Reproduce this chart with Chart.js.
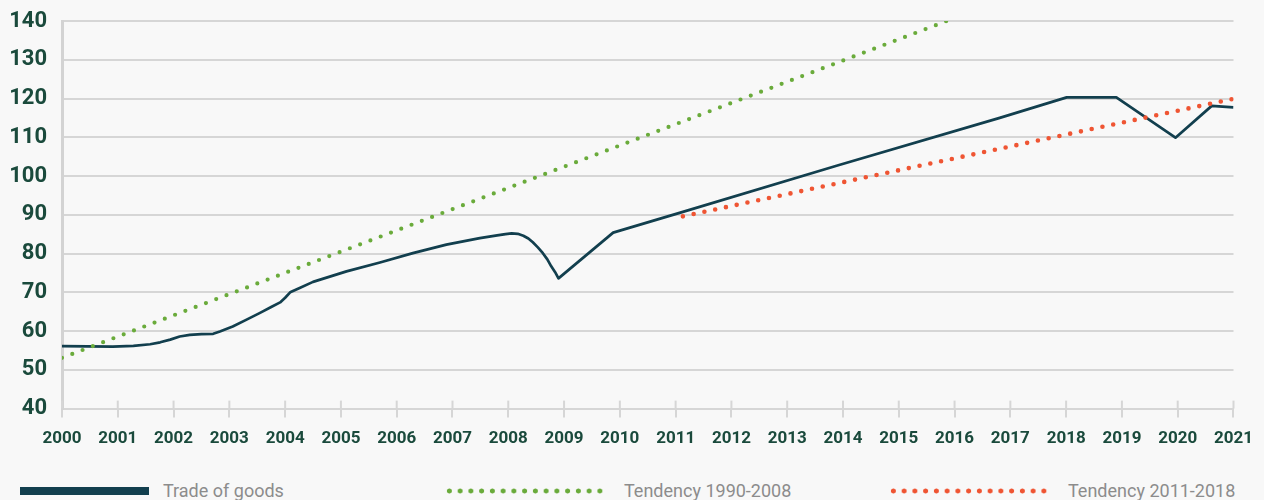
<!DOCTYPE html>
<html>
<head>
<meta charset="utf-8">
<script src="https://cdn.jsdelivr.net/npm/chart.js@4.4.1/dist/chart.umd.min.js"></script>
<style>
html,body{margin:0;padding:0;background:#f8f8f8;}
body{width:1264px;height:500px;overflow:hidden;position:relative;font-family:Roboto,"Noto Sans",sans-serif;}
#wrap{position:absolute;left:0;top:0;width:1264px;height:460px;}
.leg{position:absolute;top:479px;height:24px;display:flex;align-items:center;color:#8c8c8c;font-size:18px;line-height:24px;white-space:nowrap;}
.sw{display:inline-block;height:8px;}
.solid{background:#123f4e;width:129px;margin-right:14px;}
.dotG{width:162px;margin-right:18px;background-image:radial-gradient(circle at center,#6aab3b 2.2px,rgba(106,171,59,0) 2.8px);background-size:10.75px 8px;}
.dotR{width:162px;margin-right:18px;background-image:radial-gradient(circle at center,#ef5533 2.2px,rgba(239,85,51,0) 2.8px);background-size:10.75px 8px;}
</style>
</head>
<body>
<div id="wrap"><canvas id="c"></canvas></div>
<div class="leg" style="left:20px"><span class="sw solid"></span><span id="l0"></span></div>
<div class="leg" style="left:444px"><span class="sw dotG"></span><span id="l1"></span></div>
<div class="leg" style="left:888px"><span class="sw dotR"></span><span id="l2"></span></div>
<script>
// ---- data ----
const seriesNames = ['Trade of goods', 'Tendency 1990-2008', 'Tendency 2011-2018'];
const yearTicks = ['2000','2001','2002','2003','2004','2005','2006','2007','2008','2009','2010',
                   '2011','2012','2013','2014','2015','2016','2017','2018','2019','2020','2021'];
const valueTicks = [40, 50, 60, 70, 80, 90, 100, 110, 120, 130, 140];

const tradeYears = [2000.00, 2000.91, 2001.28, 2001.58, 2001.76, 2001.94, 2002.11, 2002.29, 2002.50,
  2002.71, 2002.83, 2003.06, 2003.30, 2003.55, 2003.75, 2003.91, 2004.00, 2004.09, 2004.26, 2004.50,
  2005.10, 2005.70, 2006.29, 2006.89, 2007.49, 2007.80, 2007.95, 2008.06, 2008.17, 2008.27, 2008.36,
  2008.44, 2008.53, 2008.62, 2008.70, 2008.77, 2008.84, 2008.90, 2009.88, 2011.07, 2013.90, 2016.81,
  2018.01, 2018.90, 2019.96, 2020.61, 2021.00];
const tradeValues = [56.1, 56.0, 56.2, 56.6, 57.1, 57.8, 58.6, 59.0, 59.2,
  59.3, 59.9, 61.2, 62.9, 64.7, 66.2, 67.4, 68.6, 70.0, 71.1, 72.7,
  75.4, 77.7, 80.1, 82.3, 84.0, 84.7, 85.0, 85.2, 85.1, 84.6, 83.9,
  82.9, 81.6, 80.1, 78.5, 76.7, 75.2, 73.6, 85.4, 90.5, 102.7, 115.0,
  120.3, 120.3, 109.9, 118.1, 117.7];

const trendAYears = [2000.00, 2015.86];
const trendAValues = [53.1, 140.0];

const trendBYears = [2011.13, 2020.99];
const trendBValues = [89.6, 119.9];

// ---- build ----
const pts = (xs, ys) => xs.map((x, i) => ({x: x, y: ys[i]}));
seriesNames.forEach((n, i) => { document.getElementById('l' + i).textContent = n; });

const labelColor = '#1a4a3c';
const gridColor = '#d6d6d6';

const upperTicks = {
  id: 'upperTicks',
  beforeDatasetsDraw(chart) {
    const xs = chart.scales.x, ca = chart.chartArea, ctx = chart.ctx;
    ctx.save();
    ctx.strokeStyle = gridColor;
    ctx.lineWidth = 2;
    xs.ticks.forEach((t, i) => {
      const px = xs.getPixelForTick(i);
      ctx.beginPath();
      ctx.moveTo(px, ca.bottom - 8);
      ctx.lineTo(px, ca.bottom);
      ctx.stroke();
    });
    ctx.restore();
  }
};

new Chart(document.getElementById('c'), {
  type: 'line',
  data: {
    datasets: [
      {
        label: seriesNames[1], data: pts(trendAYears, trendAValues),
        borderColor: '#6aab3b', borderWidth: 4.2, borderDash: [0, 11], borderCapStyle: 'round',
        pointRadius: 0, tension: 0, fill: false, order: 1
      },
      {
        label: seriesNames[2], data: pts(trendBYears, trendBValues),
        borderColor: '#ef5533', borderWidth: 4.6, borderDash: [0, 11], borderCapStyle: 'round',
        pointRadius: 0, tension: 0, fill: false, order: 2
      },
      {
        label: seriesNames[0], data: pts(tradeYears, tradeValues),
        borderColor: '#123f4e', borderWidth: 2.7, borderJoinStyle: 'round',
        pointRadius: 0, tension: 0, fill: false, order: 3
      }
    ]
  },
  options: {
    responsive: true,
    maintainAspectRatio: false,
    animation: false,
    layout: { padding: { top: 21, right: 30, bottom: 0, left: 0 } },
    plugins: { legend: { display: false }, tooltip: { enabled: false } },
    scales: {
      x: {
        type: 'linear', min: 2000, max: 2021,
        border: { display: true, color: gridColor, width: 2 },
        grid: { drawOnChartArea: false, drawTicks: true, tickLength: 9, color: gridColor, lineWidth: 2 },
        ticks: {
          stepSize: 1, autoSkip: false, maxRotation: 0, padding: 11,
          color: labelColor, font: { family: 'Roboto', weight: 'bold', size: 17 },
          callback: (v, i) => yearTicks[i]
        }
      },
      y: {
        min: valueTicks[0], max: valueTicks[valueTicks.length - 1],
        afterFit: (s) => { s.width = 62; },
        border: { display: true, color: '#d3d3d3', width: 3 },
        grid: { drawTicks: true, tickLength: 15, tickColor: 'rgba(0,0,0,0)', color: gridColor, lineWidth: 2 },
        ticks: {
          stepSize: 10, padding: 0,
          color: labelColor, font: { family: 'Roboto', weight: 'bold', size: 22 },
          callback: (v, i) => String(valueTicks[i])
        }
      }
    }
  },
  plugins: [upperTicks]
});
</script>
</body>
</html>
